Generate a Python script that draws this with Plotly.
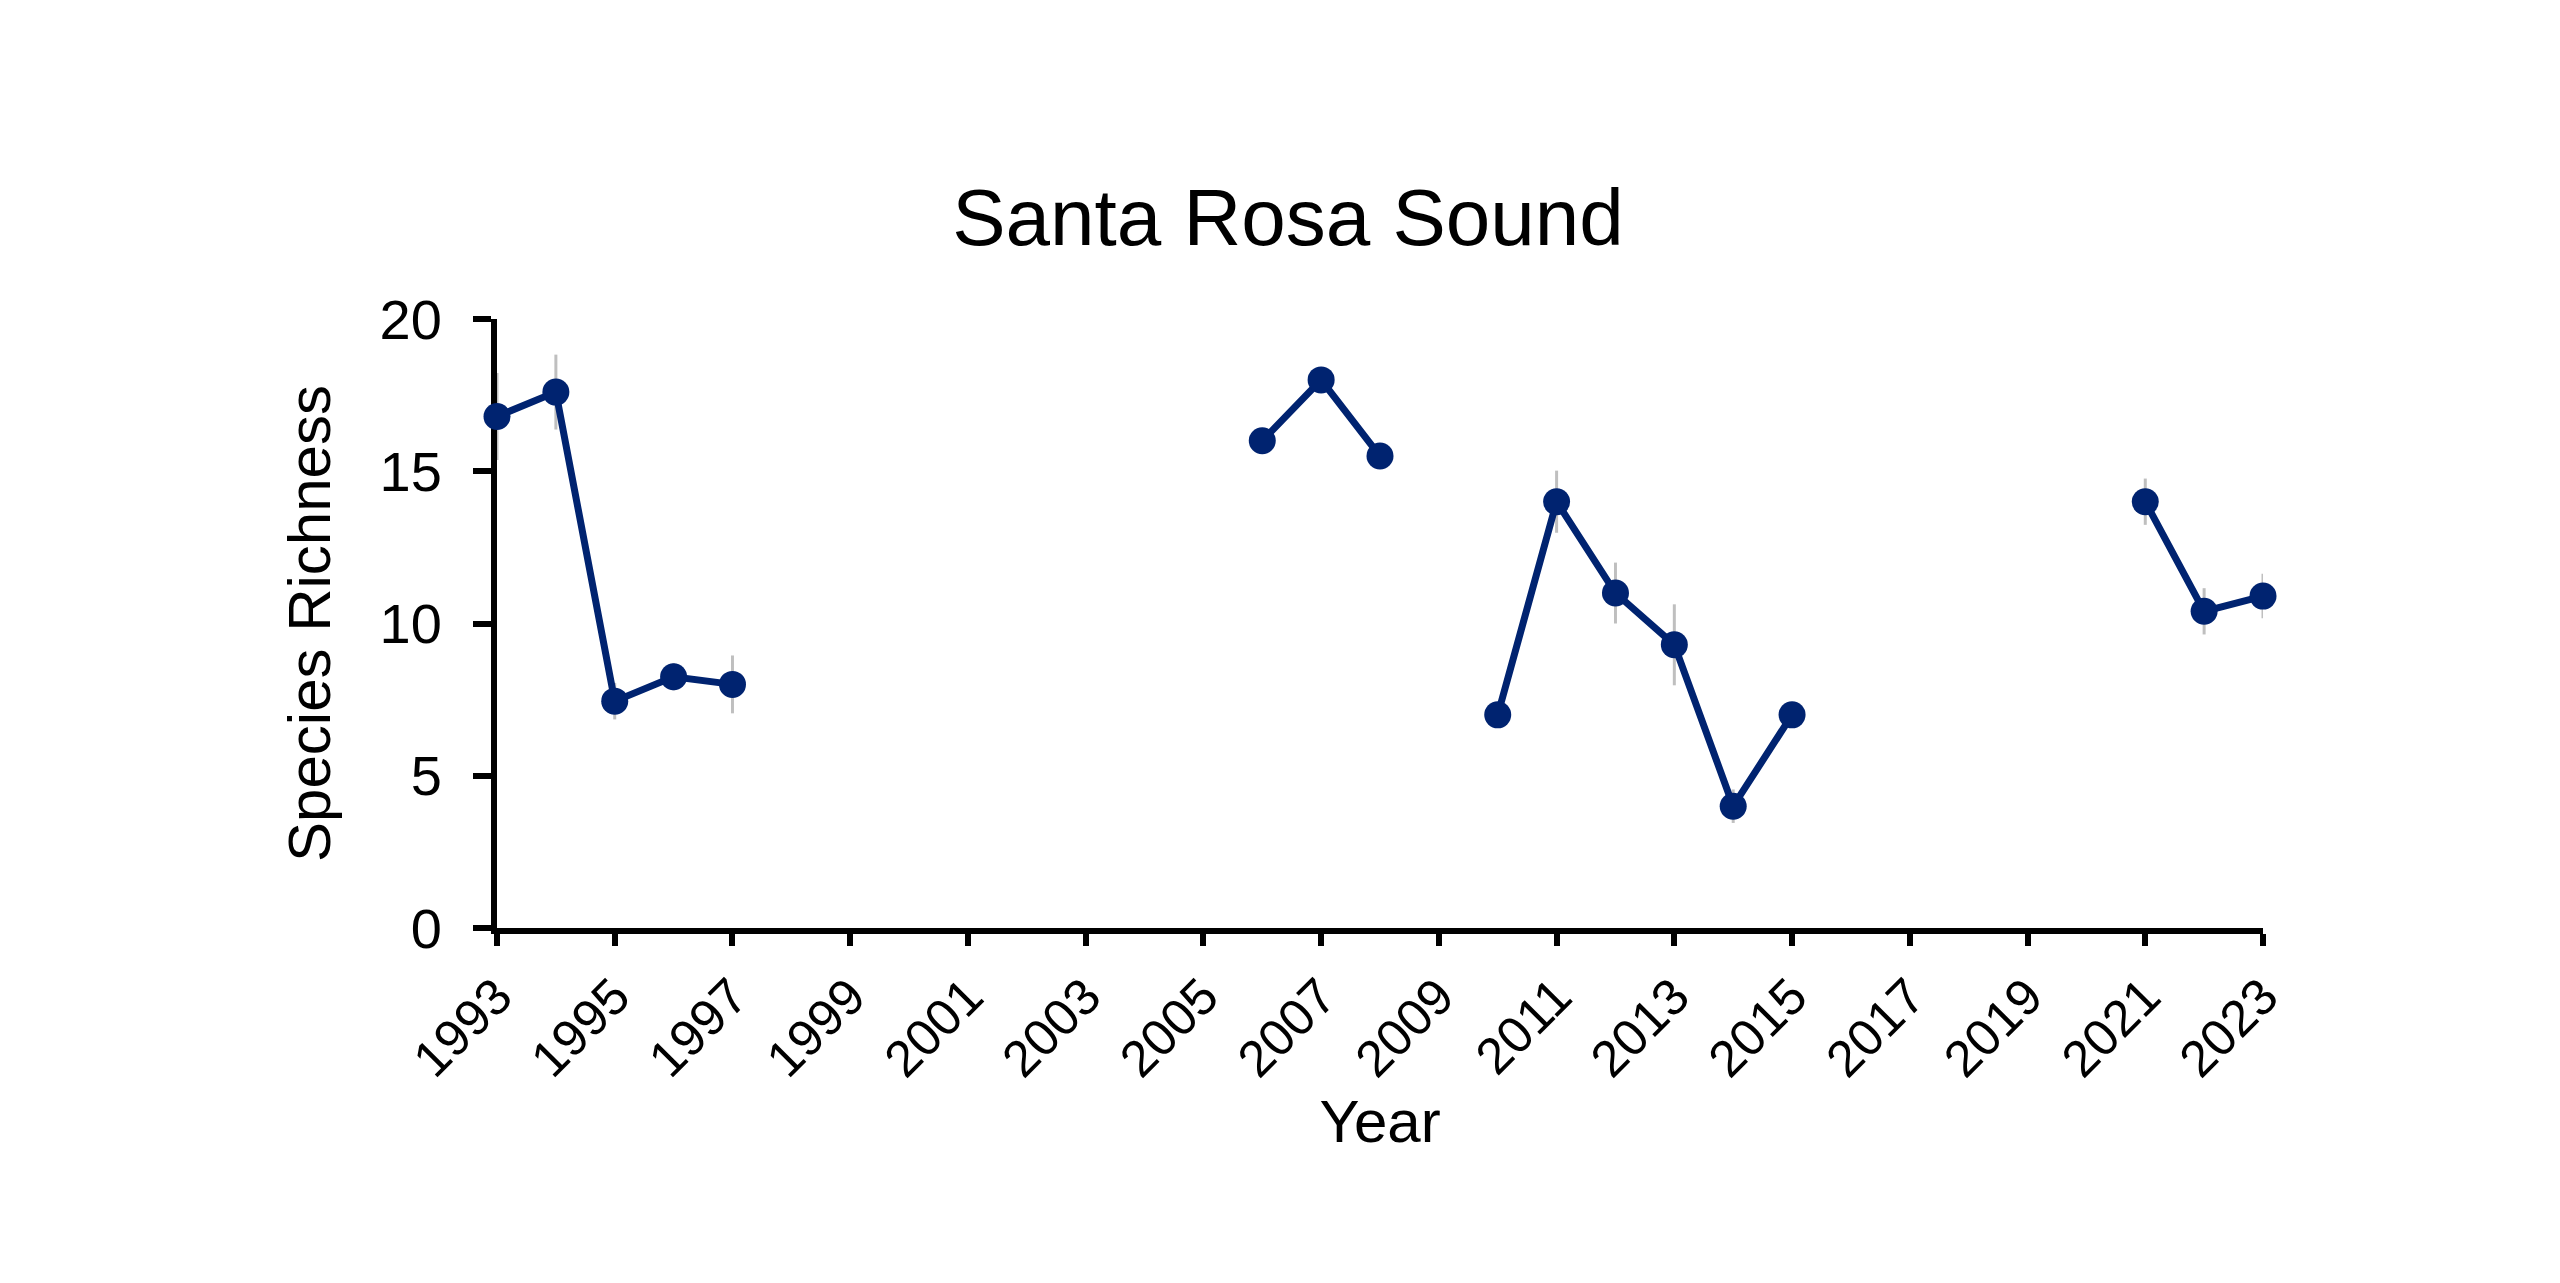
import plotly.graph_objects as go

years = [1993, 1994, 1995, 1996, 1997, 1998, 1999, 2000, 2001, 2002, 2003, 2004, 2005,
         2006, 2007, 2008, 2009, 2010, 2011, 2012, 2013, 2014, 2015, 2016, 2017, 2018,
         2019, 2020, 2021, 2022, 2023]
richness = [16.8, 17.6, 7.45, 8.25, 8.0, None, None, None, None, None, None, None, None,
            16.0, 18.0, 15.5, None, 7.0, 14.0, 11.0, 9.3, 4.0, 7.0, None, None, None,
            None, None, 14.0, 10.4, 10.9]
std_err = [1.43, 1.23, 0.6, 0.45, 0.95, None, None, None, None, None, None, None, None,
           0, 0, 0.15, None, 0, 1.02, 1.0, 1.33, 0.55, 0, None, None, None,
           None, None, 0.76, 0.76, 0.73]

tick_years = list(range(1993, 2024, 2))
navy = '#002370'
font = 'Arial, Liberation Sans, sans-serif'

fig = go.Figure()
fig.add_trace(go.Scatter(
    x=years, y=richness, mode='lines+markers',
    line=dict(color=navy, width=7),
    marker=dict(color=navy, size=27),
    error_y=dict(type='data', array=std_err, visible=True, color='#bfbfbf', thickness=3, width=0),
    cliponaxis=False, showlegend=False))

# the page body has an 8px margin, so the margins are shifted to compensate
fig.update_layout(
    width=2560, height=1283,
    paper_bgcolor='white', plot_bgcolor='white',
    margin=dict(l=489, r=305, t=311, b=363),
    font=dict(family=font, size=56, color='black'),
    title=dict(text='Santa Rosa Sound', font=dict(size=80, color='black'),
               x=0.5, xref='container', xanchor='center',
               y=1 - 209 / 1283, yref='container', yanchor='middle'),
)
fig.update_xaxes(
    range=[1993, 2023], tickvals=tick_years, ticktext=[str(t) for t in tick_years],
    tickangle=-45, tickfont=dict(size=51), ticks='outside', ticklen=12, tickwidth=6,
    tickcolor='black', showline=True, linecolor='black', linewidth=6,
    showgrid=False, zeroline=False, layer='below traces',
    title=dict(text='Year', font=dict(size=60), standoff=15))
fig.update_yaxes(
    range=[0, 20], tickvals=[0, 5, 10, 15, 20], ticklabelstandoff=20,
    ticks='outside', ticklen=18, tickwidth=6, tickcolor='black',
    showline=True, linecolor='black', linewidth=6, showgrid=False, zeroline=False,
    layer='below traces',
    title=dict(text='Species Richness', font=dict(size=60), standoff=32))

fig.write_html('out.html')
